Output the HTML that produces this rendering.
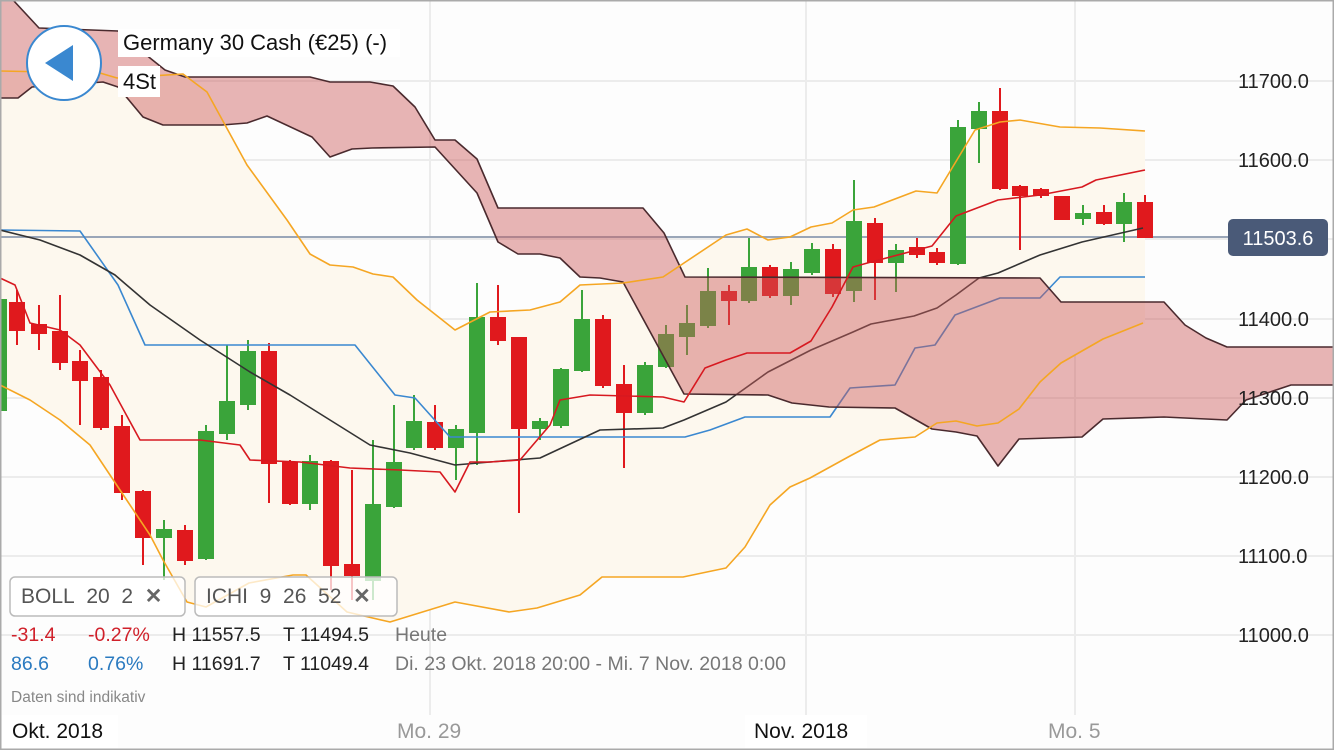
<!DOCTYPE html>
<html><head><meta charset="utf-8"><style>
html,body{margin:0;padding:0;background:#fff}
#c{position:relative;width:1334px;height:750px;overflow:hidden;font-family:"Liberation Sans",sans-serif;background:#fdfdfd}
.t{position:absolute;white-space:nowrap}
</style></head><body><div id="c">
<svg width="1334" height="750" style="position:absolute;left:0;top:0">
<rect x="0" y="0" width="1334" height="750" fill="#fdfdfd"/>
<g stroke="#ececec" stroke-width="2">
<line x1="0" y1="81" x2="1334" y2="81"/><line x1="0" y1="160" x2="1334" y2="160"/><line x1="0" y1="239" x2="1334" y2="239"/><line x1="0" y1="319" x2="1334" y2="319"/><line x1="0" y1="398" x2="1334" y2="398"/><line x1="0" y1="477" x2="1334" y2="477"/><line x1="0" y1="556" x2="1334" y2="556"/><line x1="0" y1="635" x2="1334" y2="635"/>
<line x1="430" y1="0" x2="430" y2="715"/><line x1="806" y1="0" x2="806" y2="715"/><line x1="1075" y1="0" x2="1075" y2="715"/>
</g>
<polygon fill="#fdf8ee" points="0,71 100,73 117,78 183,74 207,92 247,165 287,220 310,254 330,265 353,267 373,274 393,277 417,300 455,330 490,312 530,310 560,302 580,285 623,283 663,277 726,235 747,229 768,240 790,237 811,227 832,223 853,210 874,207 916,191 937,193 975,130 1000,122 1020,120 1060,127 1100,128 1145,131 1145,323 1103,339 1061,363 1040,382 1019,409 998,423 977,426 956,421 937,423 915,437 880,440 850,456 810,478 790,487 770,505 745,547 726,568 683,577 602,577 580,595 537,608 509,612 455,602 390,622 347,612 306,575 293,575 249,583 206,607 187,602 163,560 150,535 120,490 90,445 60,420 30,400 0,385"/>
<line x1="0" y1="237" x2="1230" y2="237" stroke="#9aa6b8" stroke-width="2"/>
<g stroke="#3aa43a" stroke-width="2" fill="#3aa43a">
<rect x="0" y="300" width="6" height="110"/>
<line x1="164" y1="520" x2="164" y2="580"/><rect x="157" y="530" width="14" height="7"/>
<line x1="206" y1="425" x2="206" y2="560"/><rect x="199" y="432" width="14" height="126"/>
<line x1="227" y1="345" x2="227" y2="440"/><rect x="220" y="402" width="14" height="31"/>
<line x1="248" y1="340" x2="248" y2="410"/><rect x="241" y="352" width="14" height="52"/>
<line x1="310" y1="455" x2="310" y2="510"/><rect x="303" y="462" width="14" height="41"/>
<line x1="373" y1="440" x2="373" y2="600"/><rect x="366" y="505" width="14" height="75"/>
<line x1="394" y1="405" x2="394" y2="508"/><rect x="387" y="463" width="14" height="43"/>
<line x1="414" y1="395" x2="414" y2="450"/><rect x="407" y="422" width="14" height="25"/>
<line x1="456" y1="425" x2="456" y2="480"/><rect x="449" y="430" width="14" height="17"/>
<line x1="477" y1="283" x2="477" y2="465"/><rect x="470" y="318" width="14" height="114"/>
<line x1="540" y1="418" x2="540" y2="440"/><rect x="533" y="422" width="14" height="6"/>
<line x1="561" y1="368" x2="561" y2="428"/><rect x="554" y="370" width="14" height="55"/>
<line x1="582" y1="290" x2="582" y2="372"/><rect x="575" y="320" width="14" height="50"/>
<line x1="645" y1="362" x2="645" y2="415"/><rect x="638" y="366" width="14" height="46"/>
<line x1="666" y1="325" x2="666" y2="368"/><rect x="659" y="335" width="14" height="31"/>
<line x1="687" y1="305" x2="687" y2="355"/><rect x="680" y="324" width="14" height="12"/>
<line x1="708" y1="268" x2="708" y2="328"/><rect x="701" y="292" width="14" height="33"/>
<line x1="749" y1="238" x2="749" y2="303"/><rect x="742" y="268" width="14" height="32"/>
<line x1="791" y1="262" x2="791" y2="305"/><rect x="784" y="270" width="14" height="25"/>
<line x1="812" y1="243" x2="812" y2="275"/><rect x="805" y="250" width="14" height="22"/>
<line x1="854" y1="180" x2="854" y2="302"/><rect x="847" y="222" width="14" height="68"/>
<line x1="896" y1="244" x2="896" y2="292"/><rect x="889" y="251" width="14" height="11"/>
<line x1="958" y1="120" x2="958" y2="265"/><rect x="951" y="128" width="14" height="135"/>
<line x1="979" y1="102" x2="979" y2="163"/><rect x="972" y="112" width="14" height="16"/>
<line x1="1083" y1="205" x2="1083" y2="225"/><rect x="1076" y="214" width="14" height="4"/>
<line x1="1124" y1="193" x2="1124" y2="242"/><rect x="1117" y="203" width="14" height="20"/>
</g>
<g stroke="#e0191d" stroke-width="2" fill="#e0191d">
<line x1="17" y1="290" x2="17" y2="345"/><rect x="10" y="303" width="14" height="27"/>
<line x1="39" y1="305" x2="39" y2="350"/><rect x="32" y="325" width="14" height="8"/>
<line x1="60" y1="295" x2="60" y2="370"/><rect x="53" y="332" width="14" height="30"/>
<line x1="80" y1="350" x2="80" y2="425"/><rect x="73" y="362" width="14" height="18"/>
<line x1="101" y1="370" x2="101" y2="430"/><rect x="94" y="378" width="14" height="49"/>
<line x1="122" y1="415" x2="122" y2="500"/><rect x="115" y="427" width="14" height="65"/>
<line x1="143" y1="490" x2="143" y2="565"/><rect x="136" y="492" width="14" height="45"/>
<line x1="185" y1="525" x2="185" y2="565"/><rect x="178" y="531" width="14" height="29"/>
<line x1="269" y1="343" x2="269" y2="503"/><rect x="262" y="352" width="14" height="111"/>
<line x1="290" y1="460" x2="290" y2="505"/><rect x="283" y="463" width="14" height="40"/>
<line x1="331" y1="460" x2="331" y2="590"/><rect x="324" y="462" width="14" height="103"/>
<line x1="352" y1="470" x2="352" y2="600"/><rect x="345" y="565" width="14" height="10"/>
<line x1="435" y1="405" x2="435" y2="450"/><rect x="428" y="423" width="14" height="24"/>
<line x1="498" y1="285" x2="498" y2="345"/><rect x="491" y="318" width="14" height="22"/>
<line x1="519" y1="338" x2="519" y2="513"/><rect x="512" y="338" width="14" height="90"/>
<line x1="603" y1="315" x2="603" y2="388"/><rect x="596" y="320" width="14" height="65"/>
<line x1="624" y1="365" x2="624" y2="468"/><rect x="617" y="385" width="14" height="27"/>
<line x1="729" y1="285" x2="729" y2="325"/><rect x="722" y="292" width="14" height="8"/>
<line x1="770" y1="265" x2="770" y2="298"/><rect x="763" y="268" width="14" height="27"/>
<line x1="833" y1="244" x2="833" y2="297"/><rect x="826" y="250" width="14" height="43"/>
<line x1="875" y1="218" x2="875" y2="300"/><rect x="868" y="224" width="14" height="38"/>
<line x1="917" y1="238" x2="917" y2="258"/><rect x="910" y="248" width="14" height="6"/>
<line x1="937" y1="248" x2="937" y2="265"/><rect x="930" y="253" width="14" height="9"/>
<line x1="1000" y1="88" x2="1000" y2="190"/><rect x="993" y="112" width="14" height="76"/>
<line x1="1020" y1="185" x2="1020" y2="250"/><rect x="1013" y="187" width="14" height="8"/>
<line x1="1041" y1="188" x2="1041" y2="198"/><rect x="1034" y="190" width="14" height="5"/>
<line x1="1062" y1="196" x2="1062" y2="220"/><rect x="1055" y="197" width="14" height="22"/>
<line x1="1104" y1="205" x2="1104" y2="225"/><rect x="1097" y="213" width="14" height="10"/>
<line x1="1145" y1="195" x2="1145" y2="238"/><rect x="1138" y="203" width="14" height="34"/>
</g>
<g fill="none" stroke-width="1.6" stroke-linejoin="round">
<polyline stroke="#3a88d0" points="0,230 80,231 118,285 145,345 355,345 395,395 415,398 450,437 685,437 710,430 745,417 830,417 850,388 895,385 915,348 935,345 955,315 1000,298 1040,298 1060,277 1145,277"/>
<polyline stroke="#333" points="0,230 40,240 80,255 115,275 150,305 200,340 250,372 290,395 330,420 370,445 410,453 455,465 490,462 540,458 600,430 663,428 684,420 726,402 768,372 811,350 853,332 871,324 914,316 937,308 956,295 979,278 998,273 1040,255 1082,242 1143,228"/>
</g>
<polygon fill="rgba(205,90,90,0.45)" points="0,0 13,0 39,28 118,31 150,58 165,70 185,77 310,77 330,82 370,82 393,86 415,107 435,140 455,140 477,159 498,208 643,208 664,233 685,277 1040,278 1061,302 1164,302 1185,325 1206,338 1227,347 1334,347 1334,385 1291,385 1246,400 1227,420 1164,417 1103,419 1082,437 1019,439 998,466 977,436 956,432 932,429 895,408 829,407 792,403 768,395 684,394 623,282 600,278 580,277 560,258 540,254 518,254 498,242 477,193 435,147 372,148 352,149 330,157 312,137 267,116 247,123 222,125 163,125 143,117 118,87 103,82 32,87 18,98 0,98"/>
<g fill="none" stroke-width="1.6" stroke-linejoin="round">
<polyline stroke="#4a2a2e" points="13,0 39,28 118,31 150,58 165,70 185,77 310,77 330,82 370,82 393,86 415,107 435,140 455,140 477,159 498,208 643,208 664,233 685,277 1040,278 1061,302 1164,302 1185,325 1206,338 1227,347 1334,347"/>
<polyline stroke="#4a2a2e" points="0,98 18,98 32,87 103,82 118,87 143,117 163,125 222,125 247,123 267,116 312,137 330,157 352,149 372,148 435,147 477,193 498,242 518,254 540,254 560,258 580,277 600,278 623,282 684,394 768,395 792,403 829,407 895,408 932,429 956,432 977,436 998,466 1019,439 1082,437 1103,419 1164,417 1227,420 1246,400 1291,385 1334,385"/>
<polyline stroke="#f5a623" points="0,71 100,73 117,78 183,74 207,92 247,165 287,220 310,254 330,265 353,267 373,274 393,277 417,300 455,330 490,312 530,310 560,302 580,285 623,283 663,277 726,235 747,229 768,240 790,237 811,227 832,223 853,210 874,207 916,191 937,193 975,130 1000,122 1020,120 1060,127 1100,128 1145,131"/>
<polyline stroke="#f5a623" points="0,385 30,400 60,420 90,445 120,490 150,535 163,560 187,602 206,607 249,583 293,575 306,575 347,612 390,622 455,602 509,612 537,608 580,595 602,577 683,577 726,568 745,547 770,505 790,487 810,478 850,456 880,440 915,437 937,423 956,421 977,426 998,423 1019,409 1040,382 1061,363 1103,339 1143,323"/>
<polyline stroke="#d71920" points="0,278 15,285 30,323 60,330 80,345 110,385 140,440 200,440 240,445 250,460 300,462 350,468 400,470 440,472 455,492 470,462 490,462 520,460 550,425 560,400 590,395 663,397 684,402 705,368 726,360 747,353 790,353 811,341 832,307 853,267 871,262 932,246 956,216 998,200 1040,195 1082,187 1096,180 1145,170"/>
</g>
<rect x="1228" y="219" width="100" height="37" rx="5" fill="#4a5a78"/>
<text x="1278" y="245" fill="#fff" font-size="20" text-anchor="middle" font-family="Liberation Sans, sans-serif">11503.6</text>
<g font-size="20" fill="#222" font-family="Liberation Sans, sans-serif">
<text x="1238" y="88">11700.0</text><text x="1238" y="167">11600.0</text><text x="1238" y="326">11400.0</text><text x="1238" y="405">11300.0</text><text x="1238" y="484">11200.0</text><text x="1238" y="563">11100.0</text><text x="1238" y="642">11000.0</text>
</g>
<circle cx="64" cy="63" r="37" fill="#fff" stroke="#3a88d0" stroke-width="2"/>
<polygon points="45,63 73,45 73,81" fill="#3a88d0"/>
<rect x="118" y="29" width="282" height="28" fill="#fff"/>
<rect x="118" y="66" width="42" height="31" fill="#fff"/>
<rect x="10" y="577" width="175" height="39" rx="5" fill="rgba(255,255,255,0.75)" stroke="#bbb" stroke-width="1.5"/>
<rect x="195" y="577" width="202" height="39" rx="5" fill="rgba(255,255,255,0.75)" stroke="#bbb" stroke-width="1.5"/>
<rect x="0" y="715" width="118" height="35" fill="#fff"/>
<rect x="745" y="715" width="122" height="35" fill="#fff"/>
<rect x="0.5" y="0.5" width="1333" height="749" fill="none" stroke="#aaa" stroke-width="2"/>
</svg>
<div class="t" style="left:123px;top:30px;font-size:22px;color:#111">Germany 30 Cash (€25) (-)</div>
<div class="t" style="left:123px;top:69px;font-size:22px;color:#111">4St</div>
<div class="t" style="left:21px;top:584px;font-size:21px;color:#555">BOLL&nbsp;&nbsp;20&nbsp;&nbsp;2&nbsp; <b style="color:#666">✕</b></div>
<div class="t" style="left:206px;top:584px;font-size:21px;color:#555">ICHI&nbsp;&nbsp;9&nbsp;&nbsp;26&nbsp;&nbsp;52&nbsp; <b style="color:#666">✕</b></div>
<div class="t" style="left:11px;top:624px;font-size:19.5px;color:#d0202a">-31.4</div>
<div class="t" style="left:88px;top:624px;font-size:19.5px;color:#d0202a">-0.27%</div>
<div class="t" style="left:172px;top:624px;font-size:19.5px;color:#222">H 11557.5</div>
<div class="t" style="left:283px;top:624px;font-size:19.5px;color:#222">T 11494.5</div>
<div class="t" style="left:395px;top:624px;font-size:19.5px;color:#777">Heute</div>
<div class="t" style="left:11px;top:653px;font-size:19.5px;color:#2a7ac0">86.6</div>
<div class="t" style="left:88px;top:653px;font-size:19.5px;color:#2a7ac0">0.76%</div>
<div class="t" style="left:172px;top:653px;font-size:19.5px;color:#222">H 11691.7</div>
<div class="t" style="left:283px;top:653px;font-size:19.5px;color:#222">T 11049.4</div>
<div class="t" style="left:395px;top:653px;font-size:19.5px;color:#777">Di. 23 Okt. 2018 20:00 - Mi. 7 Nov. 2018 0:00</div>
<div class="t" style="left:11px;top:689px;font-size:15.5px;color:#888">Daten sind indikativ</div>
<div class="t" style="left:12px;top:720px;font-size:21px;color:#111">Okt. 2018</div>
<div class="t" style="left:397px;top:720px;font-size:21px;color:#999">Mo. 29</div>
<div class="t" style="left:754px;top:720px;font-size:21px;color:#111">Nov. 2018</div>
<div class="t" style="left:1048px;top:720px;font-size:21px;color:#999">Mo. 5</div>
</div></body></html>
